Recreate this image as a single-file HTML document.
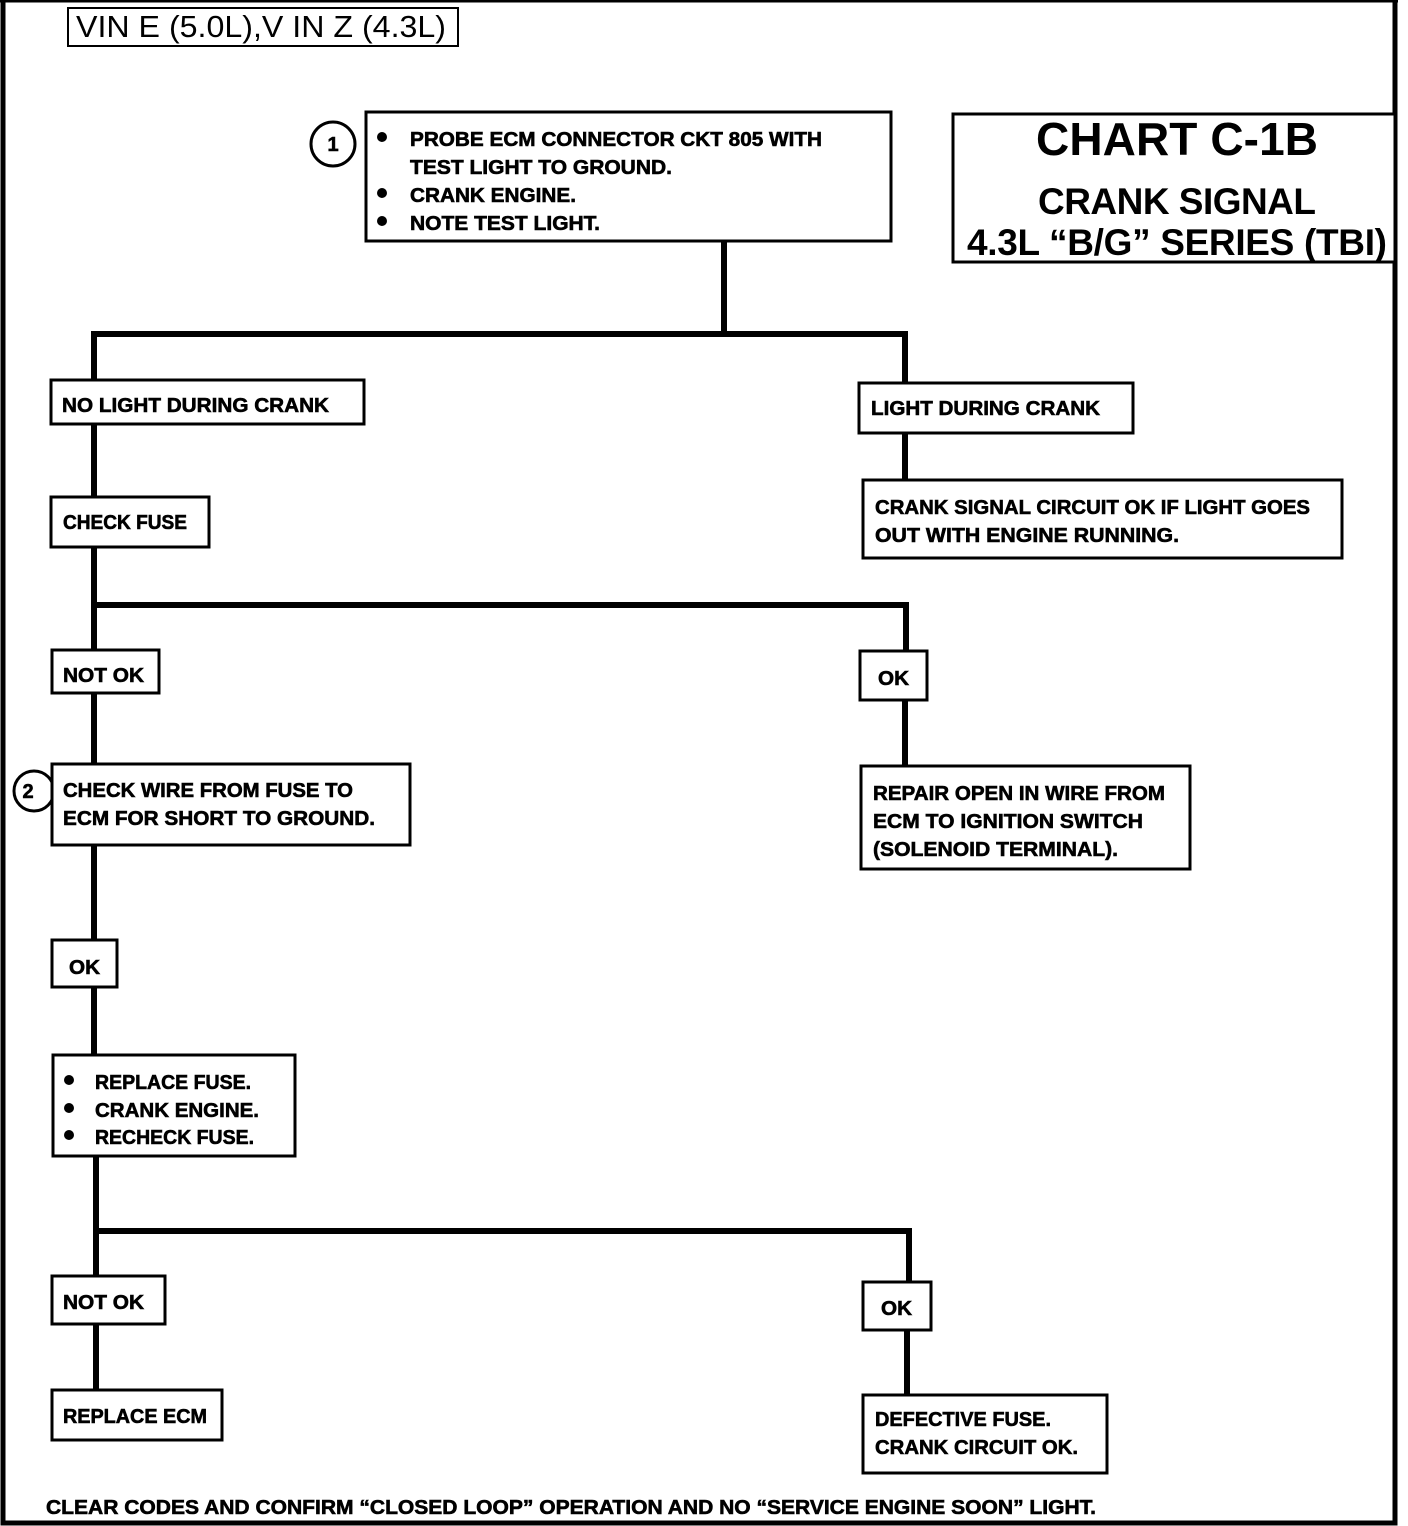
<!DOCTYPE html>
<html><head><meta charset="utf-8"><style>
html,body{margin:0;padding:0;background:#fff}
svg{display:block}
.t{font-family:"Liberation Sans",sans-serif;font-weight:bold;font-size:20px;fill:#000;stroke:#000;stroke-width:0.6}
</style></head><body>
<svg width="1408" height="1526" viewBox="0 0 1408 1526" xmlns="http://www.w3.org/2000/svg">
<g fill="none" stroke="#000">
<path d="M3,0 V1523 H1395 V0" stroke-width="5"/>
<line x1="0" y1="1" x2="1398" y2="1" stroke-width="3"/>
<g stroke-width="6">
<line x1="724" y1="241" x2="724" y2="334"/>
<line x1="91" y1="334" x2="908" y2="334"/>
<line x1="94" y1="334" x2="94" y2="380"/>
<line x1="905" y1="334" x2="905" y2="383"/>
<line x1="905" y1="433" x2="905" y2="480"/>
<line x1="94" y1="424" x2="94" y2="497"/>
<line x1="94" y1="547" x2="94" y2="650"/>
<line x1="91" y1="605" x2="909" y2="605"/>
<line x1="906" y1="605" x2="906" y2="651"/>
<line x1="94" y1="693" x2="94" y2="764"/>
<line x1="905" y1="700" x2="905" y2="766"/>
<line x1="94" y1="845" x2="94" y2="940"/>
<line x1="94" y1="987" x2="94" y2="1055"/>
<line x1="96" y1="1156" x2="96" y2="1231"/>
<line x1="93" y1="1231" x2="912" y2="1231"/>
<line x1="96" y1="1231" x2="96" y2="1276"/>
<line x1="909" y1="1231" x2="909" y2="1282"/>
<line x1="96" y1="1324" x2="96" y2="1390"/>
<line x1="907" y1="1330" x2="907" y2="1395"/>
</g>
<circle cx="333" cy="144" r="22" stroke-width="3"/>
<circle cx="34" cy="791" r="20" stroke-width="3"/>
<g stroke-width="3" fill="#fff">
<rect x="68" y="8" width="390" height="38" stroke-width="2"/>
<rect x="366" y="112" width="525" height="129"/>
<rect x="953" y="114" width="442" height="148"/>
<rect x="51" y="380" width="313" height="44"/>
<rect x="859" y="383" width="274" height="50"/>
<rect x="863" y="480" width="479" height="78"/>
<rect x="51" y="497" width="158" height="50"/>
<rect x="52" y="650" width="107" height="43"/>
<rect x="860" y="651" width="67" height="49"/>
<rect x="52" y="764" width="358" height="81"/>
<rect x="861" y="766" width="329" height="103"/>
<rect x="52" y="940" width="65" height="47"/>
<rect x="53" y="1055" width="242" height="101"/>
<rect x="52" y="1276" width="113" height="48"/>
<rect x="863" y="1282" width="68" height="48"/>
<rect x="52" y="1390" width="170" height="50"/>
<rect x="863" y="1395" width="244" height="78"/>
</g>
</g>
<g fill="#000">
<circle cx="382" cy="137" r="5"/><circle cx="382" cy="193" r="5"/><circle cx="382" cy="221" r="5"/>
<circle cx="69" cy="1080" r="5"/><circle cx="69" cy="1108" r="5"/><circle cx="69" cy="1135" r="5"/>
</g>
<text x="76" y="37" font-family="Liberation Sans,sans-serif" font-size="31" textLength="370" lengthAdjust="spacingAndGlyphs">VIN E (5.0L),V IN Z (4.3L)</text>
<text class="t" x="333" y="151" text-anchor="middle" font-size="18">1</text>
<text class="t" x="28" y="798" text-anchor="middle" font-size="18">2</text>
<g class="t">
<text x="410" y="146" textLength="412" lengthAdjust="spacingAndGlyphs">PROBE ECM CONNECTOR CKT 805 WITH</text>
<text x="410" y="174" textLength="262" lengthAdjust="spacingAndGlyphs">TEST LIGHT TO GROUND.</text>
<text x="410" y="202" textLength="166" lengthAdjust="spacingAndGlyphs">CRANK ENGINE.</text>
<text x="410" y="230" textLength="190" lengthAdjust="spacingAndGlyphs">NOTE TEST LIGHT.</text>
<text x="62" y="412" textLength="267" lengthAdjust="spacingAndGlyphs">NO LIGHT DURING CRANK</text>
<text x="871" y="415" textLength="229" lengthAdjust="spacingAndGlyphs">LIGHT DURING CRANK</text>
<text x="875" y="514" textLength="435" lengthAdjust="spacingAndGlyphs">CRANK SIGNAL CIRCUIT OK IF LIGHT GOES</text>
<text x="875" y="542" textLength="304" lengthAdjust="spacingAndGlyphs">OUT WITH ENGINE RUNNING.</text>
<text x="63" y="529" textLength="124" lengthAdjust="spacingAndGlyphs">CHECK FUSE</text>
<text x="63" y="682" textLength="81" lengthAdjust="spacingAndGlyphs">NOT OK</text>
<text x="878" y="685" textLength="31" lengthAdjust="spacingAndGlyphs">OK</text>
<text x="63" y="797" textLength="290" lengthAdjust="spacingAndGlyphs">CHECK WIRE FROM FUSE TO</text>
<text x="63" y="825" textLength="312" lengthAdjust="spacingAndGlyphs">ECM FOR SHORT TO GROUND.</text>
<text x="873" y="800" textLength="292" lengthAdjust="spacingAndGlyphs">REPAIR OPEN IN WIRE FROM</text>
<text x="873" y="828" textLength="270" lengthAdjust="spacingAndGlyphs">ECM TO IGNITION SWITCH</text>
<text x="873" y="856" textLength="245" lengthAdjust="spacingAndGlyphs">(SOLENOID TERMINAL).</text>
<text x="69" y="974" textLength="31" lengthAdjust="spacingAndGlyphs">OK</text>
<text x="95" y="1089" textLength="156" lengthAdjust="spacingAndGlyphs">REPLACE FUSE.</text>
<text x="95" y="1117" textLength="164" lengthAdjust="spacingAndGlyphs">CRANK ENGINE.</text>
<text x="95" y="1144" textLength="159" lengthAdjust="spacingAndGlyphs">RECHECK FUSE.</text>
<text x="63" y="1309" textLength="81" lengthAdjust="spacingAndGlyphs">NOT OK</text>
<text x="881" y="1315" textLength="31" lengthAdjust="spacingAndGlyphs">OK</text>
<text x="63" y="1423" textLength="144" lengthAdjust="spacingAndGlyphs">REPLACE ECM</text>
<text x="875" y="1426" textLength="176" lengthAdjust="spacingAndGlyphs">DEFECTIVE FUSE.</text>
<text x="875" y="1454" textLength="203" lengthAdjust="spacingAndGlyphs">CRANK CIRCUIT OK.</text>
<text x="46" y="1514" textLength="1050" lengthAdjust="spacingAndGlyphs">CLEAR CODES AND CONFIRM “CLOSED LOOP” OPERATION AND NO “SERVICE ENGINE SOON” LIGHT.</text>
</g>
<g font-family="Liberation Sans,sans-serif" font-weight="bold" text-anchor="middle">
<text x="1177" y="155" font-size="46" textLength="282">CHART C-1B</text>
<text x="1177" y="214" font-size="37" textLength="278">CRANK SIGNAL</text>
<text x="1177" y="255" font-size="37" textLength="420">4.3L “B/G” SERIES (TBI)</text>
</g>
</svg>
</body></html>
